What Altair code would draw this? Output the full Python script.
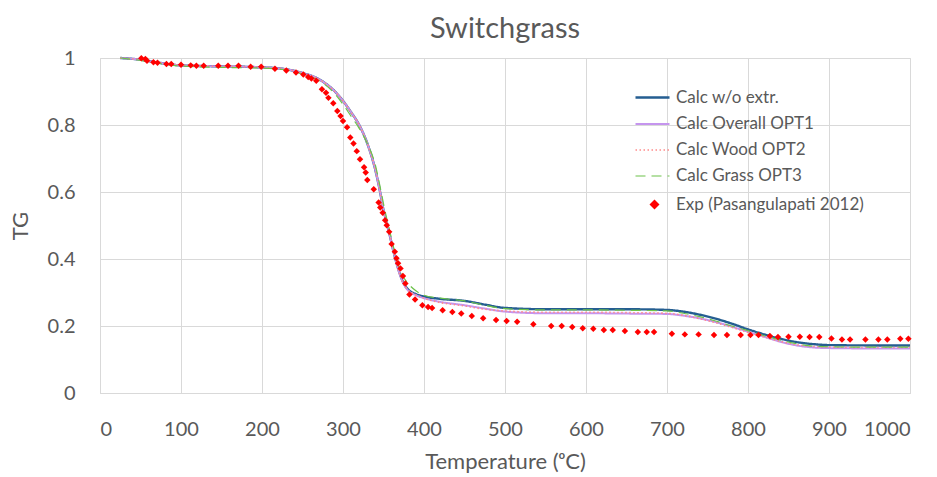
import altair as alt
import pandas as pd

# Temperature grid shared by the calculated curves (deg C)
calc_temps = [25, 50, 75, 100, 150, 200, 225, 250, 270, 290, 300, 310, 320, 330, 340,
              345, 350, 355, 360, 365, 370, 375, 380, 390, 400, 420, 450, 475, 500, 550,
              600, 650, 700, 720, 740, 760, 780, 800, 820, 840, 860, 880, 900, 950, 1000]

calc_wo_extr = [1.0, 0.995, 0.985, 0.978, 0.975, 0.972, 0.968, 0.955, 0.937, 0.9, 0.872,
                0.838, 0.8, 0.745, 0.665, 0.61, 0.546, 0.5, 0.447, 0.397, 0.357, 0.327,
                0.31, 0.295, 0.288, 0.281, 0.275, 0.264, 0.254, 0.25, 0.25, 0.25, 0.248,
                0.243, 0.234, 0.222, 0.207, 0.19, 0.175, 0.162, 0.152, 0.146, 0.143,
                0.142, 0.142]

calc_overall_opt1 = [1.0, 0.995, 0.985, 0.978, 0.975, 0.972, 0.968, 0.955, 0.937, 0.9,
                     0.872, 0.838, 0.8, 0.745, 0.665, 0.61, 0.546, 0.5, 0.447, 0.397,
                     0.355, 0.325, 0.307, 0.292, 0.283, 0.272, 0.262, 0.252, 0.243,
                     0.238, 0.238, 0.237, 0.236, 0.231, 0.223, 0.212, 0.198, 0.183,
                     0.168, 0.153, 0.142, 0.136, 0.134, 0.133, 0.133]

calc_wood_opt2 = [1.0, 0.995, 0.985, 0.978, 0.975, 0.972, 0.968, 0.955, 0.937, 0.9,
                  0.872, 0.838, 0.8, 0.745, 0.665, 0.61, 0.546, 0.5, 0.447, 0.397,
                  0.355, 0.325, 0.308, 0.293, 0.283, 0.27, 0.26, 0.25, 0.245, 0.241,
                  0.241, 0.24, 0.238, 0.232, 0.222, 0.21, 0.196, 0.181, 0.167, 0.154,
                  0.144, 0.139, 0.137, 0.136, 0.136]

calc_grass_opt3 = [1.0, 0.993, 0.983, 0.976, 0.972, 0.97, 0.966, 0.952, 0.933, 0.893,
                   0.862, 0.826, 0.79, 0.745, 0.68, 0.625, 0.565, 0.51, 0.46, 0.41,
                   0.372, 0.345, 0.328, 0.305, 0.292, 0.283, 0.275, 0.262, 0.252,
                   0.248, 0.248, 0.247, 0.245, 0.238, 0.228, 0.215, 0.2, 0.186, 0.171,
                   0.158, 0.147, 0.14, 0.138, 0.137, 0.137]

# Experimental TG data (Pasangulapati 2012)
exp_temps = [51, 56, 58, 66, 71, 82, 88, 100, 112, 119, 128, 146, 158, 171, 186, 199,
             216, 230, 242, 251, 257, 261, 267, 274, 279, 282, 288, 293, 297, 300, 305,
             309, 313, 317, 321, 326, 328, 330, 338, 344, 346, 349, 352, 354, 357, 360,
             364, 366, 368, 371, 374, 377, 382, 389, 398, 405, 410, 423, 435, 446, 459,
             473, 489, 502, 515, 535, 557, 570, 583, 596, 609, 622, 633, 648, 664, 675,
             684, 706, 722, 739, 758, 774, 791, 803, 813, 827, 837, 850, 864, 876, 888,
             903, 916, 926, 945, 961, 972, 988, 998]
exp_tg = [0.999, 0.997, 0.992, 0.987, 0.986, 0.982, 0.982, 0.980, 0.978, 0.977, 0.977,
          0.977, 0.977, 0.977, 0.974, 0.974, 0.968, 0.963, 0.957, 0.951, 0.943, 0.939,
          0.932, 0.907, 0.896, 0.881, 0.865, 0.842, 0.827, 0.812, 0.793, 0.763, 0.745,
          0.722, 0.698, 0.674, 0.658, 0.636, 0.608, 0.569, 0.554, 0.538, 0.516, 0.501,
          0.481, 0.445, 0.422, 0.402, 0.387, 0.372, 0.349, 0.327, 0.294, 0.279, 0.262,
          0.257, 0.254, 0.247, 0.242, 0.237, 0.230, 0.223, 0.218, 0.215, 0.213, 0.205,
          0.200, 0.200, 0.197, 0.193, 0.192, 0.188, 0.188, 0.185, 0.182, 0.182, 0.182,
          0.177, 0.175, 0.175, 0.173, 0.173, 0.173, 0.173, 0.173, 0.170, 0.167, 0.168,
          0.168, 0.167, 0.167, 0.163, 0.160, 0.160, 0.160, 0.160, 0.160, 0.162, 0.162]

series_names = ["Calc w/o extr.", "Calc Overall OPT1", "Calc Wood OPT2", "Calc Grass OPT3"]
series_values = [calc_wo_extr, calc_overall_opt1, calc_wood_opt2, calc_grass_opt3]
line_colors = ["#255E91", "#C595EE", "#FF8A8A", "#6CC24A"]
line_dashes = [[1, 0], [1, 0], [1.5, 2.5], [10, 6]]
line_widths = [2.4, 1.2, 1.5, 2.0]
exp_label = "Exp (Pasangulapati 2012)"

FONT = "Lato"
TEXT = "#595959"
GRID = "#D9D9D9"

calc_df = pd.concat(
    [pd.DataFrame({"series": name, "T": calc_temps, "TG": vals})
     for name, vals in zip(series_names, series_values)],
    ignore_index=True,
)
exp_df = pd.DataFrame({"src": exp_label, "T": exp_temps, "TG": exp_tg})

x_enc = alt.X(
    "T:Q",
    scale=alt.Scale(domain=[0, 1000], nice=False),
    axis=alt.Axis(
        values=list(range(0, 1001, 100)), format="d", title="Temperature (ᵒC)", grid=True,
        ticks=False, domain=True, domainColor=GRID, gridColor=GRID,
        labelFontSize=20, labelColor=TEXT, labelPadding=26, labelFont=FONT,
        titleFontSize=22, titleColor=TEXT, titleFont=FONT, titleFontWeight="normal",
        titlePadding=12,
    ),
)
y_enc = alt.Y(
    "TG:Q",
    scale=alt.Scale(domain=[0, 1], nice=False),
    axis=alt.Axis(
        values=[0, 0.2, 0.4, 0.6, 0.8, 1.0], format="~g", title="TG", grid=True,
        ticks=False, domain=False, gridColor=GRID,
        labelFontSize=20, labelColor=TEXT, labelPadding=25, labelFont=FONT,
        titleFontSize=22, titleColor=TEXT, titleFont=FONT, titleFontWeight="normal",
        titlePadding=15,
    ),
)

line_legend = alt.Legend(
    title=None, orient="none", legendX=534, legendY=21, symbolType="stroke",
    symbolSize=1156, labelFontSize=17, labelColor=TEXT, labelFont=FONT,
    labelOffset=5, rowPadding=-7, padding=0, labelLimit=300,
)
color_enc = alt.Color("series:N", scale=alt.Scale(domain=series_names, range=line_colors),
                      legend=line_legend)
dash_enc = alt.StrokeDash("series:N", scale=alt.Scale(domain=series_names, range=line_dashes),
                          legend=line_legend)
width_enc = alt.StrokeWidth("series:N", scale=alt.Scale(domain=series_names, range=line_widths),
                            legend=line_legend)

line_layers = [
    alt.Chart(calc_df).transform_filter(alt.datum.series == name)
    .mark_line(interpolate="monotone")
    .encode(x=x_enc, y=y_enc, color=color_enc, strokeDash=dash_enc, strokeWidth=width_enc)
    for name in series_names
]
lines = alt.layer(*line_layers)

points = alt.Chart(exp_df).mark_point(filled=True, size=42, opacity=1, color="#FF0000").encode(
    x=x_enc, y=y_enc,
    shape=alt.Shape("src:N", scale=alt.Scale(domain=[exp_label], range=["diamond"]),
                    legend=alt.Legend(title=None, orient="none", legendX=546, legendY=138,
                                      labelFontSize=17, labelColor=TEXT, labelFont=FONT,
                                      labelOffset=13, padding=0, labelLimit=300)),
)

chart = alt.layer(lines, points).properties(
    width=810, height=335,
    title=alt.TitleParams("Switchgrass", fontSize=29, font=FONT, color=TEXT,
                          fontWeight="normal", anchor="middle", offset=4),
    autosize=alt.AutoSizeParams(type="none"),
    padding={"left": 100, "top": 58, "right": 27, "bottom": 84},
).configure_view(stroke=None).configure(background="white")

chart.save("out.html", embed_options={"renderer": "svg", "actions": False})
